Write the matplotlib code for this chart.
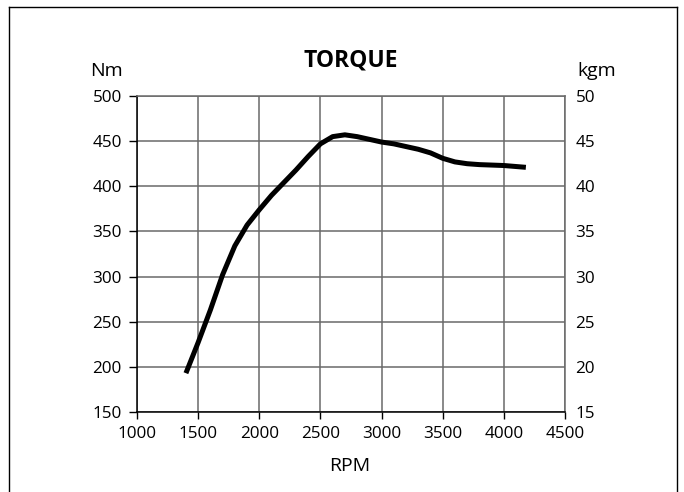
import numpy as np
import matplotlib.pyplot as plt
from matplotlib.lines import Line2D

plt.rcParams['font.family'] = ['Open Sans', 'DejaVu Sans']

rpm = [1400, 1500, 1600, 1700, 1800, 1900, 2000, 2100, 2200, 2300, 2400, 2500, 2600, 2700,
       2800, 2900, 3000, 3100, 3200, 3300, 3400, 3500, 3600, 3700, 3800, 4000, 4180]
torque_nm = [193, 227, 263, 302, 334, 357, 374, 390, 404, 418, 433, 447, 455, 457,
             455, 452, 449, 447, 444, 441, 437, 431, 427, 425, 424, 423, 421]
x_ticks = [1000, 1500, 2000, 2500, 3000, 3500, 4000, 4500]
nm_ticks = [150, 200, 250, 300, 350, 400, 450, 500]
kgm_ticks = [15, 20, 25, 30, 35, 40, 45, 50]

fig = plt.figure(figsize=(6.84, 4.92), dpi=100)
ax = fig.add_axes([137/684, 80/492, 428/684, 316/492])

grid_col = '#6a6a6a'
ax.plot(rpm, torque_nm, color='black', linewidth=3.6, solid_capstyle='butt',
        solid_joinstyle='round', zorder=3)
ax.set_xlim(1000, 4500)
ax.set_ylim(150, 500)
ax.set_xticks(x_ticks)
ax.set_yticks(nm_ticks)
ax.grid(True, color=grid_col, linewidth=1.1)
for s in ax.spines.values():
    s.set_color(grid_col)
    s.set_linewidth(1.1)
ax.spines['left'].set_color('black')
ax.spines['bottom'].set_color('black')
ax.tick_params(axis='both', labelsize=12.3, length=5, width=1, color='black')
ax.tick_params(axis='x', pad=5)
ax.tick_params(axis='y', length=6, pad=5)

ax2 = ax.twinx()
ax2.set_ylim(15, 50)
ax2.set_yticks(kgm_ticks)
ax2.tick_params(axis='y', labelsize=12.3, length=0, pad=7.5)
for s in ax2.spines.values():
    s.set_visible(False)

fig.text(351/684, 1 - 66/492, 'TORQUE', ha='center', va='baseline', fontsize=16.5, fontweight='bold')
fig.text(106/684, 1 - 76/492, 'Nm', ha='center', va='baseline', fontsize=14)
fig.text(597/684, 1 - 76/492, 'kgm', ha='center', va='baseline', fontsize=14)
fig.text(350/684, 1 - 471/492, 'RPM', ha='center', va='baseline', fontsize=14)

# outer frame (bottom edge falls outside the image)
fx0, fx1, fy1 = 9/684, 677/684, 1 - 7/492
for xs, ys in [([fx0, fx0], [-0.1, fy1]), ([fx0, fx1], [fy1, fy1]), ([fx1, fx1], [fy1, -0.1])]:
    fig.add_artist(Line2D(xs, ys, transform=fig.transFigure, color='black', linewidth=1))

fig.savefig('out.png', dpi=100)
